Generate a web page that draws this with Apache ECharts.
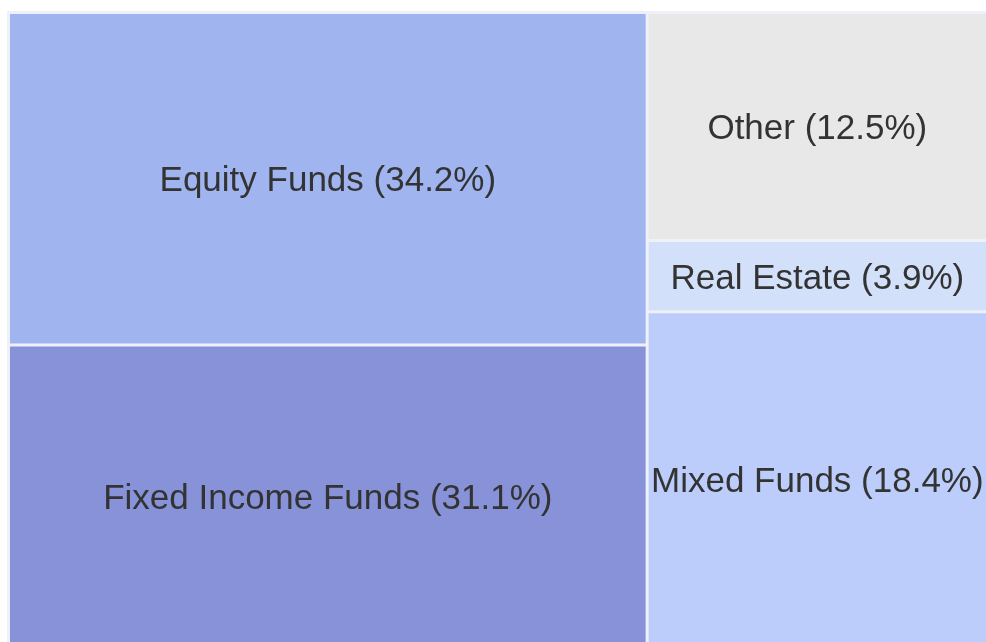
<!DOCTYPE html>
<html lang="en">
<head>
    <meta charset="utf-8">
    <title>Fund allocation treemap</title>
    <script src="https://cdn.jsdelivr.net/npm/echarts@6/dist/echarts.min.js"></script>
    <style>
        html, body { margin: 0; padding: 0; background: #fff; }
        #chart { width: 986px; height: 642px; }
    </style>
</head>
<body>
    <div id="chart"></div>
    <script>
        // data (share of total, %)
        var categories = ['Equity Funds', 'Fixed Income Funds', 'Other', 'Real Estate', 'Mixed Funds'];
        var shares = [34.2, 31.1, 12.5, 3.9, 18.4];
        var palette = ['#a0b4f0', '#8792d8', '#e8e8e8', '#d3e0fa', '#bccdfb'];

        var chart = echarts.init(document.getElementById('chart'));

        var nodes = categories.map(function (name, i) {
            return {
                name: name,
                value: shares[i],
                itemStyle: { color: palette[i] }
            };
        });

        var option = {
            backgroundColor: '#fff',
            animation: false,
            series: [{
                type: 'treemap',
                left: 7,
                top: 11,
                width: 982,
                height: 638,
                sort: false, // keep given order so the layout matches
                squareRatio: 1.12,
                roam: false,
                nodeClick: false,
                breadcrumb: { show: false },
                label: {
                    show: true,
                    position: 'inside',
                    align: 'center',
                    verticalAlign: 'middle',
                    overflow: 'none',
                    offset: [0, 3],
                    fontFamily: 'Liberation Sans, Arial, sans-serif',
                    fontSize: 35,
                    color: '#333',
                    formatter: '{b} ({c}%)'
                },
                itemStyle: {
                    borderColor: '#eef1fa'
                },
                levels: [{
                    itemStyle: {
                        borderColor: '#eef1fa',
                        borderWidth: 3,
                        gapWidth: 3
                    }
                }],
                data: nodes
            }]
        };

        chart.setOption(option, true);
    </script>
</body>
</html>
